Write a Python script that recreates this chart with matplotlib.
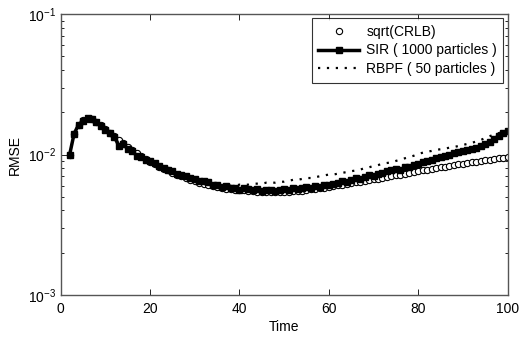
import matplotlib
matplotlib.use("Agg")
import matplotlib.pyplot as plt
from matplotlib.ticker import LogLocator, NullFormatter

plt.rcParams['font.family'] = ['Liberation Sans', 'DejaVu Sans']
plt.rcParams['mathtext.fontset'] = 'custom'
plt.rcParams['mathtext.rm'] = 'Liberation Sans'
plt.rcParams['mathtext.it'] = 'Liberation Sans'

time = list(range(2, 101))

crlb = [0.0100, 0.0140, 0.0162, 0.0175, 0.0180, 0.0178, 0.0170, 0.0161, 0.0152, 0.0143,
        0.0135, 0.0127, 0.0120, 0.0113, 0.0107, 0.0102, 0.0097, 0.0093, 0.0089, 0.0086,
        0.0082, 0.0079, 0.0077, 0.0074, 0.0072, 0.0070, 0.0068, 0.0066, 0.0065, 0.0063,
        0.0062, 0.0061, 0.0060, 0.0059, 0.0058, 0.0057, 0.0057, 0.0056, 0.0056,
        0.00555, 0.0055, 0.00548, 0.00545, 0.00543, 0.00541, 0.0054, 0.0054, 0.0054, 0.00541,
        0.00543, 0.00546, 0.0055, 0.00554, 0.00559, 0.00565, 0.0057, 0.00576, 0.00582, 0.00588,
        0.00595, 0.00602, 0.0061, 0.00617, 0.00625, 0.00633, 0.00641, 0.00649, 0.00657, 0.00665,
        0.00674, 0.00683, 0.00692, 0.00701, 0.0071, 0.0072, 0.0073, 0.0074, 0.0075, 0.0076,
        0.0077, 0.0078, 0.0079, 0.0080, 0.0081, 0.0082, 0.0083, 0.0084, 0.0085, 0.0086,
        0.0087, 0.0088, 0.0089, 0.0090, 0.0091, 0.0092, 0.0093, 0.0094, 0.0095, 0.0096]

sir = [0.0100, 0.0141, 0.0163, 0.0174, 0.0183, 0.0180, 0.0171, 0.0160, 0.0150, 0.0143,
       0.0134, 0.0115, 0.0118, 0.0110, 0.0106, 0.0098, 0.0096, 0.0091, 0.0090, 0.0087,
       0.0083, 0.0080, 0.0078, 0.0076, 0.0073, 0.0071, 0.0070, 0.0068, 0.0067, 0.0065,
       0.0065, 0.0064, 0.0061, 0.0061, 0.0059, 0.0060, 0.0058, 0.0058, 0.0056,
       0.0058, 0.0057, 0.0056, 0.0057, 0.0055, 0.0056, 0.0056, 0.0055, 0.0056, 0.0057,
       0.0056, 0.0058, 0.0057, 0.0058, 0.0059, 0.0058, 0.0060, 0.0059, 0.0061, 0.0061,
       0.0062, 0.0063, 0.0065, 0.0064, 0.0066, 0.0068, 0.0067, 0.0069, 0.0071, 0.0070,
       0.0073, 0.0074, 0.0076, 0.0077, 0.0079, 0.0078, 0.0081, 0.0082, 0.0084, 0.0086,
       0.0089, 0.0090, 0.0092, 0.0094, 0.0096, 0.0098, 0.0100, 0.0102, 0.0104, 0.0106,
       0.0108, 0.0110, 0.0112, 0.0115, 0.0118, 0.0122, 0.0129, 0.0136, 0.0143, 0.0148]

rbpf = [0.0100, 0.0140, 0.0163, 0.0175, 0.0182, 0.0179, 0.0171, 0.0161, 0.0151, 0.0143,
        0.0134, 0.0120, 0.0118, 0.0111, 0.0106, 0.0099, 0.0096, 0.0092, 0.0090, 0.0087,
        0.0083, 0.0080, 0.0078, 0.0076, 0.0073, 0.0071, 0.0070, 0.0068, 0.0067, 0.0066,
        0.0065, 0.0064, 0.0062, 0.0061, 0.0059, 0.0059, 0.0060, 0.0060, 0.0061,
        0.0061, 0.0061, 0.0062, 0.0062, 0.0062, 0.0063, 0.0063, 0.0063, 0.0064, 0.0064,
        0.0065, 0.0066, 0.0066, 0.0067, 0.0068, 0.0068, 0.0069, 0.0070, 0.0071, 0.0072,
        0.0072, 0.0073, 0.0074, 0.0075, 0.0076, 0.0077, 0.0078, 0.0080, 0.0081, 0.0083,
        0.0084, 0.0086, 0.0087, 0.0088, 0.0090, 0.0092, 0.0094, 0.0096, 0.0098, 0.0101,
        0.0103, 0.0105, 0.0106, 0.0108, 0.0109, 0.0110, 0.0112, 0.0113, 0.0115, 0.0117,
        0.0119, 0.0121, 0.0124, 0.0127, 0.0131, 0.0135, 0.0139, 0.0142, 0.0145, 0.0148]

labels = ['sqrt(CRLB)', 'SIR ( 1000 particles )', 'RBPF ( 50 particles )']

fig = plt.figure(figsize=(5.19, 3.37), dpi=100)
ax = fig.add_axes([0.117, 0.125, 0.861, 0.833])

ax.plot(time, crlb, linestyle='none', marker='o', markersize=4.5,
        markerfacecolor='white', markeredgecolor='black', markeredgewidth=0.8,
        label=labels[0])
ax.plot(time, sir, color='black', linewidth=2.5, marker='s', markersize=5,
        markerfacecolor='black', label=labels[1])
ax.plot(time, rbpf, color='black', linewidth=1.6, linestyle=(0, (1, 3)),
        label=labels[2])

ax.set_yscale('log')
ax.set_xlim(0, 100)
ax.set_ylim(1e-3, 1e-1)
ax.set_xticks([0, 20, 40, 60, 80, 100])
ax.yaxis.set_major_locator(LogLocator(base=10, numticks=10))
ax.yaxis.set_minor_locator(LogLocator(base=10, subs=range(2, 10), numticks=20))
ax.yaxis.set_minor_formatter(NullFormatter())

ax.tick_params(which='both', direction='in', top=True, right=True,
               labelsize=10, colors='black')
ax.tick_params(which='major', length=4, width=0.6)
ax.tick_params(axis='x', which='major', pad=5)
ax.tick_params(which='minor', length=2.5, width=0.6)
for s in ax.spines.values():
    s.set_color('#555555')
    s.set_linewidth(1.0)

ax.set_xlabel('Time', fontsize=10, labelpad=3)
ax.set_ylabel('RMSE', fontsize=10, labelpad=4)

leg = ax.legend(loc='upper right', fontsize=10, frameon=True, fancybox=False,
                edgecolor='black', borderaxespad=0.3, handlelength=3.0,
                handletextpad=0.5, borderpad=0.45, labelspacing=0.35)
leg.get_frame().set_linewidth(0.8)

fig.savefig('out.png', dpi=100)
